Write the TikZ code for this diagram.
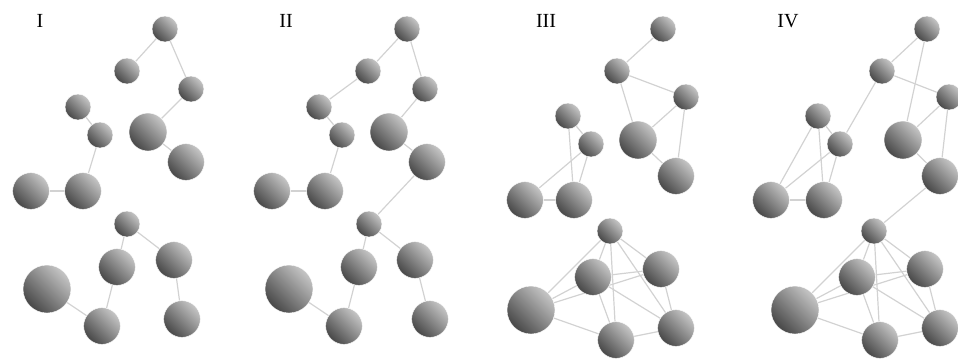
\documentclass[tikz,border=0pt]{standalone}
\usepackage{fontspec}
\setmainfont{Liberation Serif}
\usepackage{tikz}
\usetikzlibrary{backgrounds}
\definecolor{bondgray}{HTML}{D2D2D2}

\begin{document}
\begin{tikzpicture}[x=0.75pt,y=-0.75pt,font=\fontsize{15}{18}\selectfont,
  atom/.style={circle,inner sep=0pt,draw=white,line width=0.3pt,
    top color=gray!45,bottom color=black!72,shading angle=-45},
  sm/.style={atom,minimum size=19.5pt},
  md/.style={atom,minimum size=27.5pt},
  lg/.style={atom,minimum size=36pt},
  bond/.style={draw=bondgray,line width=0.9pt}]
\useasboundingbox (0,0) rectangle (958,358);

% panel labels
\node (t1) at (40,21) {I};
\node (t2) at (286,21) {II};
\node (t3) at (546,21) {III};
\node (t4) at (788,21) {IV};

% I
\node[sm] (a1) at (165,29) {};
\node[sm] (b1) at (127,71) {};
\node[sm] (c1) at (191,89) {};
\node[md,minimum size=28.5pt] (d1) at (148,132) {};
\node[md] (e1) at (186,162) {};
\node[sm] (f1) at (78,107) {};
\node[sm] (g1) at (100,135) {};
\node[md] (h1) at (83,191) {};
\node[md] (j1) at (31,191) {};
\node[sm] (k1) at (127,224) {};
\node[md] (l1) at (117,267) {};
\node[md] (m1) at (174,260) {};
\node[lg] (n1) at (47,289) {};
\node[md] (o1) at (102,326) {};
\node[md] (p1) at (182,319) {};

% II
\node[sm] (a2) at (407,29) {};
\node[sm] (b2) at (368,71) {};
\node[sm] (c2) at (425,89) {};
\node[md,minimum size=28.5pt] (d2) at (389,132) {};
\node[md] (e2) at (427,162) {};
\node[sm] (f2) at (319,107) {};
\node[sm] (g2) at (342,135) {};
\node[md] (h2) at (325,191) {};
\node[md] (j2) at (272,191) {};
\node[sm] (k2) at (369,224) {};
\node[md] (l2) at (359,267) {};
\node[md] (m2) at (415,260) {};
\node[lg] (n2) at (289,289) {};
\node[md] (o2) at (344,326) {};
\node[md] (p2) at (430,319) {};

% III
\node[sm] (a3) at (663,29) {};
\node[sm] (b3) at (617,71) {};
\node[sm] (c3) at (686,97) {};
\node[md,minimum size=28.5pt] (d3) at (638,140) {};
\node[md] (e3) at (676,176) {};
\node[sm] (f3) at (568,116) {};
\node[sm] (g3) at (591,144) {};
\node[md] (h3) at (574,200) {};
\node[md] (j3) at (525,200) {};
\node[sm] (k3) at (610,231) {};
\node[md] (l3) at (593,277) {};
\node[md] (m3) at (661,269) {};
\node[lg] (n3) at (531,310) {};
\node[md] (o3) at (616,340) {};
\node[md] (p3) at (676,328) {};

% IV
\node[sm] (a4) at (927,29) {};
\node[sm] (b4) at (882,71) {};
\node[sm] (c4) at (949,97) {};
\node[md,minimum size=28.5pt] (d4) at (903,140) {};
\node[md] (e4) at (940,176) {};
\node[sm] (f4) at (818,116) {};
\node[sm] (g4) at (840,144) {};
\node[md] (h4) at (824,200) {};
\node[md] (j4) at (771,200) {};
\node[sm] (k4) at (874,231) {};
\node[md] (l4) at (857,277) {};
\node[md] (m4) at (925,269) {};
\node[lg] (n4) at (795,310) {};
\node[md] (o4) at (880,340) {};
\node[md] (p4) at (940,328) {};

\begin{scope}[on background layer]
% I and II
\foreach \i in {1,2} {
  \foreach \u/\v in {a/b,a/c,c/d,d/e,f/g,g/h,h/j,k/l,k/m,m/p,l/o,o/n}
    \draw[bond] (\u\i) -- (\v\i);
}
\draw[bond] (b2) -- (f2);
\draw[bond] (e2) -- (k2);
% III and IV
\foreach \i in {3,4} {
  \foreach \u/\v in {a/b,b/c,c/d,c/e,d/e,f/g,f/h,g/h,g/j,h/j,
      k/n,k/l,k/m,k/o,k/p,l/m,l/n,l/o,l/p,m/n,m/p,n/o,o/p}
    \draw[bond] (\u\i) -- (\v\i);
}
\draw[bond] (b3) -- (d3);
\draw[bond] (a4) -- (d4);
\draw[bond] (b4) -- (g4);
\draw[bond] (f4) -- (j4);
\draw[bond] (e4) -- (k4);
\end{scope}
\end{tikzpicture}
\end{document}
